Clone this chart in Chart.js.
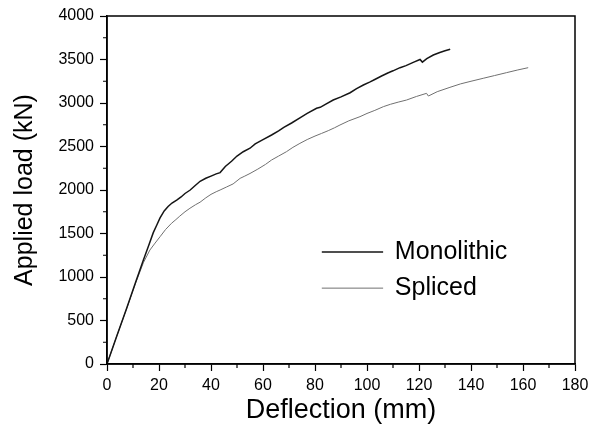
<!DOCTYPE html>
<html>
<head>
<meta charset="utf-8">
<script src="https://cdn.jsdelivr.net/npm/chart.js@4.4.0/dist/chart.umd.min.js"></script>
<style>
  html, body { margin: 0; padding: 0; background: #fff; }
  #wrap { width: 590px; height: 425px; position: relative; }
</style>
</head>
<body>
<div id="wrap"><canvas id="c" width="590" height="425"></canvas></div>
<script>
// ---- data (deflection in mm, applied load in kN) ----
const seriesNames = ["Monolithic", "Spliced"];
const monoX = [0, 3.5, 7.6, 11, 14, 16, 17.8, 19.2, 20.4, 22, 23.5, 25, 26.8, 28.5, 30, 32, 33.5, 35.8, 38, 40, 42, 43.5, 45.5, 47.9, 50, 52.4, 55, 57, 60, 63.3, 66, 68, 71, 74.2, 77, 80.6, 82, 84, 87, 90, 93.5, 96, 98.6, 101, 103, 105.6, 108, 110, 112.7, 115, 118, 120.4, 121.3, 123, 125.5, 128, 130, 132];
const monoY = [0, 300, 645, 940, 1195, 1360, 1510, 1600, 1680, 1760, 1810, 1850, 1885, 1920, 1960, 2000, 2040, 2100, 2135, 2160, 2185, 2200, 2270, 2330, 2390, 2440, 2480, 2530, 2580, 2632, 2680, 2720, 2770, 2830, 2880, 2939, 2950, 2985, 3034, 3070, 3118, 3165, 3207, 3240, 3270, 3310, 3345, 3370, 3406, 3430, 3470, 3500, 3470, 3510, 3552, 3580, 3600, 3617];
const splX = [0, 3.5, 7.6, 11, 14, 16.5, 18.5, 20.4, 22.5, 24.8, 26.5, 28, 30, 31.9, 34, 35.8, 38, 40, 42, 43.5, 46, 48.5, 51.2, 53, 55, 58, 61, 63.3, 66, 69, 71.5, 74.2, 77, 80, 82.5, 85.1, 87.5, 89.6, 93, 97.3, 100, 103, 106.3, 109, 112, 115.2, 119, 122.9, 123.6, 127, 131.9, 136, 140, 144.7, 149, 153.7, 158, 162];
const splY = [0, 300, 640, 930, 1165, 1310, 1390, 1463, 1545, 1617, 1660, 1700, 1750, 1790, 1830, 1860, 1910, 1950, 1980, 2000, 2035, 2070, 2134, 2160, 2190, 2240, 2295, 2345, 2390, 2440, 2490, 2536, 2580, 2620, 2650, 2682, 2715, 2747, 2795, 2843, 2880, 2915, 2958, 2985, 3010, 3034, 3075, 3111, 3080, 3130, 3180, 3220, 3250, 3284, 3315, 3349, 3380, 3406];
const xTicks = [0, 20, 40, 60, 80, 100, 120, 140, 160, 180];
const yTicks = [0, 500, 1000, 1500, 2000, 2500, 3000, 3500, 4000];
const xTitle = "Deflection (mm)";
const yTitle = "Applied load (kN)";

const toPts = (xs, ys) => xs.map((x, i) => ({ x: x, y: ys[i] }));
const FONT = "'Liberation Sans', Arial, Helvetica, sans-serif";

const framePlugin = {
  id: 'frame',
  afterDatasetsDraw(chart) {
    const { ctx, chartArea: a, scales } = chart;
    const xs = scales.x, ys = scales.y;
    ctx.save();
    ctx.strokeStyle = '#000';
    ctx.lineWidth = 1.5;
    ctx.strokeRect(a.left, a.top, a.right - a.left, a.bottom - a.top);
    // minor ticks
    ctx.lineWidth = 1.2;
    ctx.beginPath();
    for (let v = 10; v < 180; v += 20) {
      const px = xs.getPixelForValue(v);
      ctx.moveTo(px, a.bottom); ctx.lineTo(px, a.bottom + 4);
    }
    for (let v = 250; v < 4000; v += 500) {
      const py = ys.getPixelForValue(v);
      ctx.moveTo(a.left, py); ctx.lineTo(a.left - 4, py);
    }
    ctx.stroke();
    // legend inside plot
    const w = a.right - a.left, h = a.bottom - a.top;
    const x0 = a.left + 0.459 * w, x1 = a.left + 0.590 * w, tx = a.left + 0.615 * w;
    const rows = [0.678, 0.782];
    ctx.font = "25px " + FONT;
    ctx.textBaseline = 'middle';
    ctx.textAlign = 'left';
    ctx.fillStyle = '#000';
    chart.data.datasets.forEach((ds, i) => {
      const y = a.top + rows[i] * h;
      ctx.strokeStyle = ds.borderColor;
      ctx.lineWidth = ds.borderWidth;
      ctx.beginPath(); ctx.moveTo(x0, y); ctx.lineTo(x1, y); ctx.stroke();
      ctx.fillText(ds.label, tx, y);
    });
    ctx.restore();
  }
};

new Chart(document.getElementById('c'), {
  type: 'scatter',
  data: {
    datasets: [
      { label: seriesNames[0], data: toPts(monoX, monoY), showLine: true, borderColor: '#151515', borderWidth: 1.5, pointRadius: 0, tension: 0 },
      { label: seriesNames[1], data: toPts(splX, splY), showLine: true, borderColor: '#707070', borderWidth: 1, pointRadius: 0, tension: 0 }
    ]
  },
  options: {
    responsive: false,
    animation: false,
    devicePixelRatio: 1,
    layout: { padding: { top: 16, right: 15, left: 0, bottom: 0 } },
    plugins: { legend: { display: false }, tooltip: { enabled: false } },
    scales: {
      x: {
        type: 'linear', min: 0, max: 180,
        afterBuildTicks: s => { s.ticks = xTicks.map(v => ({ value: v })); },
        afterFit: s => { s.height = 61; s.paddingLeft = 0; s.paddingRight = 0; },
        ticks: { color: '#000', font: { family: FONT, size: 16 }, padding: 5, maxRotation: 0, autoSkip: false, callback: v => String(v) },
        grid: { drawOnChartArea: false, drawTicks: true, tickLength: 7, tickColor: '#000', tickWidth: 1.2 },
        border: { display: true, color: '#000', width: 1.5 },
        title: { display: true, text: xTitle, color: '#000', font: { family: FONT, size: 27, lineHeight: 1.1 }, padding: { top: 0, bottom: 0 } }
      },
      y: {
        type: 'linear', min: 0, max: 4000,
        afterBuildTicks: s => { s.ticks = yTicks.map(v => ({ value: v })); },
        afterFit: s => { s.width = 107; s.paddingTop = 0; s.paddingBottom = 0; },
        ticks: { color: '#000', font: { family: FONT, size: 16 }, padding: 6, autoSkip: false, callback: v => String(v) },
        grid: { drawOnChartArea: false, drawTicks: true, tickLength: 7, tickColor: '#000', tickWidth: 1.2 },
        border: { display: true, color: '#000', width: 1.5 },
        title: { display: true, text: yTitle, color: '#000', font: { family: FONT, size: 25, lineHeight: 1.2 }, padding: { top: 10, bottom: 0 } }
      }
    }
  },
  plugins: [framePlugin]
});
</script>
</body>
</html>
